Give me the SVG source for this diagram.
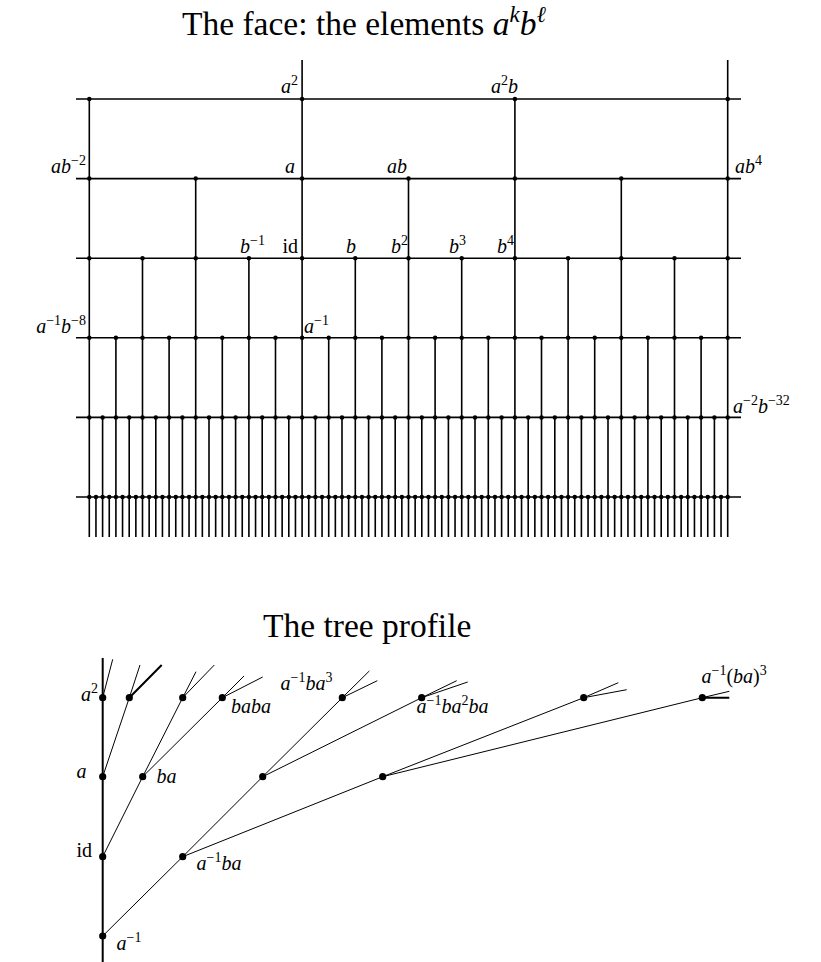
<svg xmlns="http://www.w3.org/2000/svg" width="821" height="962" viewBox="0 0 821 962">
<style>
text{font-family:"Liberation Serif","Times New Roman",serif;fill:#000}
.m{font-style:italic;font-size:20px}
.s{font-size:14px;font-style:normal}
.title{font-size:33.5px}
.g{stroke:#000;stroke-width:1.6;fill:none}
.dots{stroke:#000;stroke-width:4.5;stroke-linecap:round;fill:none}
.te{stroke:#000;stroke-width:1;fill:none}
.tm{stroke:#000;stroke-width:2;fill:none}
.td{fill:#000}
</style>
<rect width="821" height="962" fill="#fff"/>
<text class="title" x="182" y="35">The face: the elements <tspan style="font-style:italic">a</tspan><tspan style="font-style:italic;font-size:23px" dy="-13">k</tspan><tspan style="font-style:italic" dy="13">b</tspan><tspan style="font-style:italic;font-size:23px" dy="-13">ℓ</tspan></text>
<g id="face-connectors">
<path class="g" d="M76 99H741M76 178.6H741M76 258.2H741M76 337.8H741M76 417.4H741M76 497H741"/>
<path class="g" d="M89.3 99V537M302.1 60V537M514.9 99V537M727.7 60V537
M195.7 178.6V537M408.5 178.6V537M621.3 178.6V537
M142.5 258.2V537M248.9 258.2V537M355.3 258.2V537M461.7 258.2V537M568.1 258.2V537M674.5 258.2V537
M115.9 337.8V537M169.1 337.8V537M222.3 337.8V537M275.5 337.8V537M328.7 337.8V537M381.9 337.8V537M435.1 337.8V537M488.3 337.8V537M541.5 337.8V537M594.7 337.8V537M647.9 337.8V537M701.1 337.8V537
M102.6 417.4V537M129.2 417.4V537M155.8 417.4V537M182.4 417.4V537M209 417.4V537M235.6 417.4V537M262.2 417.4V537M288.8 417.4V537M315.4 417.4V537M342 417.4V537M368.6 417.4V537M395.2 417.4V537M421.8 417.4V537M448.4 417.4V537M475 417.4V537M501.6 417.4V537M528.2 417.4V537M554.8 417.4V537M581.4 417.4V537M608 417.4V537M634.6 417.4V537M661.2 417.4V537M687.8 417.4V537M714.4 417.4V537
M95.95 497V537M109.25 497V537M122.55 497V537M135.85 497V537M149.15 497V537M162.45 497V537M175.75 497V537M189.05 497V537M202.35 497V537M215.65 497V537M228.95 497V537M242.25 497V537M255.55 497V537M268.85 497V537M282.15 497V537M295.45 497V537M308.75 497V537M322.05 497V537M335.35 497V537M348.65 497V537M361.95 497V537M375.25 497V537M388.55 497V537M401.85 497V537M415.15 497V537M428.45 497V537M441.75 497V537M455.05 497V537M468.35 497V537M481.65 497V537M494.95 497V537M508.25 497V537M521.55 497V537M534.85 497V537M548.15 497V537M561.45 497V537M574.75 497V537M588.05 497V537M601.35 497V537M614.65 497V537M627.95 497V537M641.25 497V537M654.55 497V537M667.85 497V537M681.15 497V537M694.45 497V537M707.75 497V537M721.05 497V537"/>
</g>
<g id="face-vertices">
<path class="dots" d="M89.3 99H728.2" stroke-dasharray="0 212.8"/>
<path class="dots" d="M89.3 178.6H728.2" stroke-dasharray="0 106.4"/>
<path class="dots" d="M89.3 258.2H728.2" stroke-dasharray="0 53.2"/>
<path class="dots" d="M89.3 337.8H728.2" stroke-dasharray="0 26.6"/>
<path class="dots" d="M89.3 417.4H728.2" stroke-dasharray="0 13.3"/>
<path class="dots" d="M89.3 497H728.2" stroke-dasharray="0 6.65"/>
</g>
<g id="face-labels">
<g id="n-a2"><text class="m" x="298" y="93" text-anchor="end">a<tspan class="s" dy="-8">2</tspan></text></g>
<g id="n-a2b"><text class="m" x="491" y="93">a<tspan class="s" dy="-8">2</tspan><tspan dy="8">b</tspan></text></g>
<g id="n-ab-2"><text class="m" x="86" y="173" text-anchor="end">ab<tspan class="s" dy="-8">−2</tspan></text></g>
<g id="n-a"><text class="m" x="295" y="173" text-anchor="end">a</text></g>
<g id="n-ab"><text class="m" x="407" y="173" text-anchor="end">ab</text></g>
<g id="n-ab4"><text class="m" x="735" y="173">ab<tspan class="s" dy="-8">4</tspan></text></g>
<g id="n-b-1"><text class="m" x="265" y="252.5" text-anchor="end">b<tspan class="s" dy="-8">−1</tspan></text></g>
<g id="n-id"><text class="m" x="298" y="252.5" text-anchor="end" style="font-style:normal">id</text></g>
<g id="n-b"><text class="m" x="356" y="252.5" text-anchor="end">b</text></g>
<g id="n-b2"><text class="m" x="408" y="252.5" text-anchor="end">b<tspan class="s" dy="-8">2</tspan></text></g>
<g id="n-b3"><text class="m" x="466" y="252.5" text-anchor="end">b<tspan class="s" dy="-8">3</tspan></text></g>
<g id="n-b4"><text class="m" x="514" y="252.5" text-anchor="end">b<tspan class="s" dy="-8">4</tspan></text></g>
<g id="n-a-1b-8"><text class="m" x="86" y="333" text-anchor="end">a<tspan class="s" dy="-8">−1</tspan><tspan dy="8">b</tspan><tspan class="s" dy="-8">−8</tspan></text></g>
<g id="n-a-1"><text class="m" x="304" y="333">a<tspan class="s" dy="-8">−1</tspan></text></g>
<g id="n-a-2b-32"><text class="m" x="733" y="413">a<tspan class="s" dy="-8">−2</tspan><tspan dy="8">b</tspan><tspan class="s" dy="-8">−32</tspan></text></g>
</g>
<text class="title" x="263" y="637">The tree profile</text>
<g id="tree-connectors">
<path class="tm" d="M102.7 658V962"/>
<path class="te" d="M102.7 936L182.7 856.7M102.7 856.7L142.7 776.7M102.7 776.7L129.3 697.7M142.7 776.7L182.7 697.7M142.7 776.7L222.3 697.7M182.7 856.7L262.7 776.7M182.7 856.7L382.7 776.7M262.7 776.7L342.3 697.7M262.7 776.7L421.7 697.7M382.7 776.7L583.7 697.7M382.7 776.7L702.3 697.7"/>
<path class="te" d="M102.7 697.7L112.7 659.3M129.3 697.7L140 665M129.3 697.7L161.7 665M182.7 697.7L196 671.7M182.7 697.7L214.3 665M222.3 697.7L244 676M222.3 697.7L262.7 677M342.3 697.7L369.3 671M342.3 697.7L377.3 680.7M421.7 697.7L456.7 680.7M421.7 697.7L467.7 682M583.7 697.7L618.3 682.7M583.7 697.7L626.7 689.7M702.3 697.7L729.3 691.3"/>
<path class="tm" d="M129.3 697.7L161.7 665M702.3 697.7H729.3"/>
</g>
<g id="tree-nodes">
<g id="t-a2"><circle class="td" cx="102.7" cy="697.7" r="3.6"/><text class="m" x="98" y="701" text-anchor="end">a<tspan class="s" dy="-8">2</tspan></text></g>
<g id="t-a"><circle class="td" cx="102.7" cy="776.7" r="3.6"/><text class="m" x="76.5" y="778">a</text></g>
<g id="t-id"><circle class="td" cx="102.7" cy="856.7" r="3.6"/><text class="m" x="76.5" y="857" style="font-style:normal">id</text></g>
<g id="t-a-1"><circle class="td" cx="102.7" cy="936" r="3.6"/><text class="m" x="116.5" y="950">a<tspan class="s" dy="-8">−1</tspan></text></g>
<g id="t-ab"><circle class="td" cx="129.3" cy="697.7" r="3.6"/></g>
<g id="t-ba"><circle class="td" cx="142.7" cy="776.7" r="3.6"/><text class="m" x="156.5" y="783">ba</text></g>
<g id="t-ba2"><circle class="td" cx="182.7" cy="697.7" r="3.6"/></g>
<g id="t-baba"><circle class="td" cx="222.3" cy="697.7" r="3.6"/><text class="m" x="231" y="713">baba</text></g>
<g id="t-a-1ba"><circle class="td" cx="182.7" cy="856.7" r="3.6"/><text class="m" x="196.5" y="870">a<tspan class="s" dy="-8">−1</tspan><tspan dy="8">ba</tspan></text></g>
<g id="t-a-1ba2"><circle class="td" cx="262.7" cy="776.7" r="3.6"/></g>
<g id="t-a-1bab"><circle class="td" cx="382.7" cy="776.7" r="3.6"/></g>
<g id="t-a-1ba3"><circle class="td" cx="342.3" cy="697.7" r="3.6"/><text class="m" x="280.5" y="690">a<tspan class="s" dy="-8">−1</tspan><tspan dy="8">ba</tspan><tspan class="s" dy="-8">3</tspan></text></g>
<g id="t-a-1ba2ba"><circle class="td" cx="421.7" cy="697.7" r="3.6"/><text class="m" x="416.5" y="713">a<tspan class="s" dy="-8">−1</tspan><tspan dy="8">ba</tspan><tspan class="s" dy="-8">2</tspan><tspan dy="8">ba</tspan></text></g>
<g id="t-a-1babba"><circle class="td" cx="583.7" cy="697.7" r="3.6"/></g>
<g id="t-a-1ba3x"><circle class="td" cx="702.3" cy="697.7" r="3.6"/><text class="m" x="701.5" y="683">a<tspan class="s" dy="-8">−1</tspan><tspan dy="8" style="font-style:normal">(</tspan>ba<tspan style="font-style:normal">)</tspan><tspan class="s" dy="-8">3</tspan></text></g>
</g>
</svg>
